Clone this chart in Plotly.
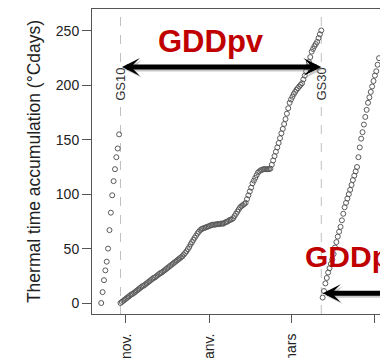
import plotly.graph_objects as go
import pandas as pd

# ---- data ----
pre_start = "2014-10-14"
pre_values = [0, 10, 21, 30, 38, 50, 67, 83, 99, 112, 123, 134, 142, 155]

main_start = "2014-10-28"
main_values = [
    0, 1, 2, 3, 4, 5, 6, 7, 8, 8.5, 9.5, 10.5, 11.5, 12.5, 13.5, 14.5, 15.5, 16, 17, 18, 19,
    20, 21, 22, 23, 23.5, 24.5, 25.5, 26.5, 27.5, 28, 29, 30,
    31, 32, 33, 34, 35, 36, 37, 38,
    39, 40, 41, 42, 43, 44.5, 46,
    47.5, 49.5, 51.5, 54, 56, 58, 60, 62, 64, 65.5, 67,
    68, 68.5, 69, 69.5, 70, 70.5, 71, 71.5, 72,
    72, 72, 72.5, 72.5, 72.5, 73, 73, 73,
    74, 74.5, 75, 76, 76.5, 77, 78,
    80, 82, 84, 86, 88,
    89, 90, 91, 92,
    95.5, 99, 102.5, 106, 110,
    112.5, 115, 117.5, 120,
    121, 122, 122.5, 123, 123, 123, 123, 123, 123.5,
    127, 131, 135, 139, 143, 147, 151.5, 156,
    160, 164.5, 169, 174, 179, 184,
    187, 189.5, 192, 194,
    196, 197.5, 199, 200.5, 202,
    205.5, 209, 213, 217,
    221.5, 226, 231,
    233.5, 236, 238, 240,
    243.5, 247, 250.5,
]

post_start = "2015-03-24"
post_values = [
    5, 11, 18, 23, 28, 32, 36, 40, 45, 51, 56, 61, 65.5, 70, 76, 82, 88, 92, 96, 100,
    104, 108.5, 113, 117, 121, 125, 134, 143, 151, 157, 164, 171, 177.5, 184, 189, 194,
    199, 204, 209, 213, 219, 225, 230, 236, 242, 248, 254,
]

stage_dates = ["2014-10-28", "2015-03-23"]
stage_labels = ["GS10", "GS30"]

tick_dates = ["2014-11-01", "2015-01-01", "2015-03-01", "2015-05-01"]
tick_labels = ["nov.", "janv.", "mars", "mai"]
y_ticks = [0, 50, 100, 150, 200, 250]

# ---- figure ----
def dates(start, vals):
    return pd.date_range(start, periods=len(vals), freq="D")

marker = dict(symbol="circle-open", size=5, color="#5a5a5a", line=dict(width=1))
fig = go.Figure()
for start, vals in [(pre_start, pre_values), (main_start, main_values), (post_start, post_values)]:
    fig.add_trace(go.Scatter(x=dates(start, vals), y=vals, mode="markers",
                             marker=marker, showlegend=False, cliponaxis=False))

for d in stage_dates:
    fig.add_shape(type="line", xref="x", yref="paper", x0=d, x1=d, y0=0, y1=1,
                  line=dict(color="#c0c0c0", width=1, dash="dash"), layer="below")

for d, lab in zip(stage_dates, stage_labels):
    fig.add_annotation(x=d, y=201, text=lab, textangle=-90, showarrow=False,
                       font=dict(family="Liberation Sans, Arial", size=13, color="#333333"),
                       bgcolor="white", borderpad=0)

# arrows (shadow + arrow)
arrow_y1 = 217
arrow_y2 = 9
for shift, col, op in [(2, "#888888", 0.45), (0, "black", 1.0)]:
    fig.add_annotation(x=stage_dates[1], y=arrow_y1, ax=stage_dates[0], ay=arrow_y1,
                       xref="x", yref="y", axref="x", ayref="y", text="",
                       showarrow=True, arrowhead=3, startarrowhead=3, arrowside="end+start",
                       arrowwidth=5, arrowsize=0.6, startarrowsize=0.6,
                       arrowcolor=col, opacity=op, xshift=shift, yshift=-shift)
    fig.add_annotation(x="2015-06-10", y=arrow_y2, ax="2015-03-23", ay=arrow_y2,
                       xref="x", yref="y", axref="x", ayref="y", text="",
                       showarrow=True, arrowhead=3, startarrowhead=3, arrowside="end+start",
                       arrowwidth=5, arrowsize=0.6, startarrowsize=0.6,
                       arrowcolor=col, opacity=op, xshift=shift, yshift=-shift)

fig.add_annotation(x="2015-01-01 18:00", y=240, text="<b>GDDpv</b>", showarrow=False,
                   font=dict(family="Liberation Sans, Arial", size=31, color="#C00000"))
fig.add_annotation(x="2015-03-10", y=43, text="<b>GDDp</b>", showarrow=False, xanchor="left",
                   font=dict(family="Liberation Sans, Arial", size=30, color="#C00000"))

fig.update_xaxes(type="date", range=["2014-10-07 07:00", "2015-05-04 17:00"],
                 tickvals=tick_dates, ticktext=tick_labels, tickangle=-90,
                 ticks="outside", ticklen=8, tickcolor="#555555", ticklabelstandoff=5,
                 showline=True, linecolor="#555555", linewidth=1, mirror=True,
                 showgrid=False, zeroline=False, automargin=False,
                 tickfont=dict(family="Liberation Sans, Arial", size=14, color="#222222"))
fig.update_yaxes(range=[-10.1, 270.2], tickvals=y_ticks,
                 ticks="outside", ticklen=9, tickcolor="#555555",
                 showline=True, linecolor="#555555", linewidth=1,
                 showgrid=False, zeroline=False, automargin=False,
                 tickfont=dict(family="Liberation Sans, Arial", size=14, color="#222222"),
                 title=dict(text="Thermal time accumulation (°Cdays)", standoff=10,
                            font=dict(family="Liberation Sans, Arial", size=17.5, color="#222222")))

fig.update_layout(width=380, height=358, margin=dict(l=92, r=0, t=9, b=44),
                  plot_bgcolor="white", paper_bgcolor="white")

fig.write_html("out.html", config={"displayModeBar": False},
               post_script="document.body.style.margin='0';")
